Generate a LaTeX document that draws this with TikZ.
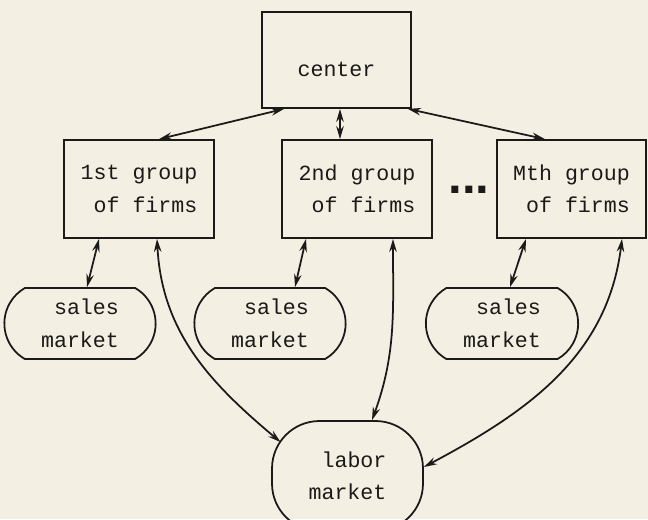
\documentclass[tikz,border=0pt]{standalone}
\usepackage{fontspec}
\setmonofont{Liberation Mono}
\setsansfont{Liberation Sans}
\usetikzlibrary{shapes.misc,arrows.meta}
\definecolor{paper}{RGB}{243,239,226}
\definecolor{ink}{RGB}{28,26,24}

\begin{document}
\begin{tikzpicture}[line width=1pt,color=ink,>={Stealth[length=2.6mm,width=1.5mm]},
	font=\ttfamily\fontsize{12.3}{18.5}\selectfont,
	firmbox/.style={draw,rectangle,minimum width=3cm,minimum height=1.96cm,align=right,inner sep=0pt},
	salesbox/.style={draw,rounded rectangle,rounded rectangle arc length=120,minimum width=3.26cm,minimum height=1.42cm,align=right},
	laborbox/.style={draw,rectangle,rounded corners=0.95cm,minimum width=3.02cm,minimum height=2.2cm,align=right},
	link/.style={<->}]
	%PAPER
	\fill[paper] (0,0) rectangle (12.96,-10.38);
	\useasboundingbox (0,0) rectangle (12.96,-10.38);
	
	%BOXES
	\node[firmbox,minimum width=2.98cm,minimum height=1.92cm,text height=0.65cm] (c) at (6.73,-1.2) {center};
	%
	\node[firmbox] (g1) at (2.78,-3.78) {1st group\\of firms};
	\node[firmbox] (g2) at (7.14,-3.78) {2nd group\\of firms};
	\node[firmbox,minimum width=2.98cm] (gM) at (11.43,-3.78) {Mth group\\of firms};
	\node[font=\sffamily\bfseries\fontsize{28}{28}\selectfont,inner sep=0pt] (dots) at (9.38,-3.8) {...};
	%
	\node[salesbox] (s1) at (1.6,-6.47) {sales\\market};
	\node[salesbox] (s2) at (5.4,-6.47) {sales\\market};
	\node[salesbox,minimum width=3.28cm] (s3) at (10.04,-6.47) {sales\\market};
	%
	\node[laborbox] (lab) at (6.95,-9.52) {labor\\market};
	
	%CENTER ARROWS
	\draw[link] ([xshift=0.46cm]c.south west) -- ([xshift=0.4cm]g1.north);
	\draw[link] ([xshift=0.07cm]c.south) -- ([xshift=-0.34cm]g2.north);
	\draw[link] ([xshift=-0.08cm]c.south east) -- ([xshift=-0.53cm]gM.north);
	
	%SALES ARROWS
	\draw[link] ([xshift=-0.8cm]g1.south) -- ([xshift=0.14cm]s1.north);
	\draw[link] ([xshift=-1.02cm]g2.south) -- ([xshift=0.5cm]s2.north);
	\draw[link] ([xshift=-0.91cm]gM.south) -- ([xshift=0.16cm]s3.north);
	
	%LABOR ARROWS
	\draw[link] ([xshift=0.36cm]g1.south) to[out=-87,in=140] ([shift={(0.19cm,-0.44cm)}]lab.north west);
	\draw[link] ([xshift=0.72cm]g2.south) to[out=-90,in=70] ([xshift=0.49cm]lab.north);
	\draw[link] ([xshift=1.01cm]gM.south) to[out=-97,in=28] ([yshift=0.18cm]lab.east);
\end{tikzpicture}
\end{document}
